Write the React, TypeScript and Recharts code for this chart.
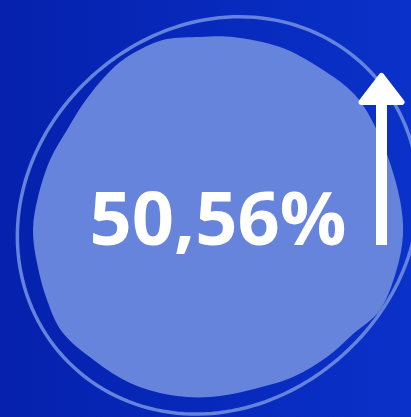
import React from 'react';
import { PieChart, Pie } from 'recharts';

// headline figure shown in the badge
const METRIC_NAMES = ['Crescimento'];
const METRIC_VALUES = [50.56];

const BG_LEFT = '#0521ad';
const BG_RIGHT = '#0a31c9';
const BLOB_COLOR = '#6684db';
const RING_COLOR = '#6483dd';

// hand-traced outline of the organic blob, offsets from the pie centre
const BLOB_OUTLINE: [number, number][] = [
  [-52, -178], [-19, -180], [14, -180], [61, -170], [101, -149], [136, -122],
  [158, -87], [171, -54], [181, -17], [184, 18], [177, 55], [161, 93],
  [134, 117], [108, 140], [74, 160], [31, 173], [-9, 180], [-49, 178],
  [-89, 166], [-124, 144], [-156, 116], [-172, 83], [-182, 46], [-186, 13],
  [-181, -20], [-169, -57], [-152, -87], [-136, -113], [-119, -135],
  [-99, -155], [-76, -169],
];

// traced points of the hand-drawn outer ring, same reference point
const RING_TRACE: [number, number][] = [
  [51, -204], [98, -190], [138, -160], [179, -117], [192, -57], [191, -12],
  [183, 48], [166, 93], [136, 131], [96, 163], [48, 187], [-9, 198],
  [-69, 187], [-119, 167], [-157, 133], [-184, 93], [-201, 48], [-206, 5],
  [-199, -30], [-186, -64], [-167, -97], [-136, -130], [-102, -157],
  [-76, -170], [-52, -182], [-19, -194], [14, -200],
];

const data = METRIC_NAMES.map((name, i) => ({ name, value: METRIC_VALUES[i] }));

// closed catmull-rom spline through the outline points
function smoothPath(pts: [number, number][], cx: number, cy: number) {
  const p = pts.map(([x, y]) => [x + cx, y + cy]);
  const n = p.length;
  let d = `M${p[0][0]},${p[0][1]}`;
  for (let i = 0; i < n; i++) {
    const p0 = p[(i - 1 + n) % n];
    const p1 = p[i];
    const p2 = p[(i + 1) % n];
    const p3 = p[(i + 2) % n];
    const c1x = p1[0] + (p2[0] - p0[0]) / 6;
    const c1y = p1[1] + (p2[1] - p0[1]) / 6;
    const c2x = p2[0] - (p3[0] - p1[0]) / 6;
    const c2y = p2[1] - (p3[1] - p1[1]) / 6;
    d += ` C${c1x},${c1y} ${c2x},${c2y} ${p2[0]},${p2[1]}`;
  }
  return d + 'Z';
}

// low order fourier fit r(theta) so the ring stays smooth despite tracing noise
function ringPath(pts: [number, number][], cx: number, cy: number) {
  const basis = (t: number) => [1, Math.cos(t), Math.sin(t), Math.cos(2 * t), Math.sin(2 * t)];
  const k = 5;
  const M = Array.from({ length: k }, () => new Array(k + 1).fill(0));
  pts.forEach(([x, y]) => {
    const t = Math.atan2(y, x);
    const r = Math.hypot(x, y);
    const b = basis(t);
    for (let i = 0; i < k; i++) {
      for (let j = 0; j < k; j++) M[i][j] += b[i] * b[j];
      M[i][k] += b[i] * r;
    }
  });
  for (let i = 0; i < k; i++) {
    for (let j = i + 1; j < k; j++) {
      const f = M[j][i] / M[i][i];
      for (let c = i; c <= k; c++) M[j][c] -= f * M[i][c];
    }
  }
  const coef = new Array(k).fill(0);
  for (let i = k - 1; i >= 0; i--) {
    let s = M[i][k];
    for (let j = i + 1; j < k; j++) s -= M[i][j] * coef[j];
    coef[i] = s / M[i][i];
  }
  let d = '';
  const steps = 180;
  for (let s = 0; s < steps; s++) {
    const t = (s / steps) * Math.PI * 2;
    const r = basis(t).reduce((acc, v, i) => acc + v * coef[i], 0);
    d += `${s === 0 ? 'M' : 'L'}${cx + r * Math.cos(t)},${cy + r * Math.sin(t)} `;
  }
  return d + 'Z';
}

// the single sector is drawn as ring + blob + figure + up arrow
const BlobShape = (props: any) => {
  const { cx, cy, value } = props;
  const text = Number(value).toFixed(2).replace('.', ',') + '%';
  const ax = cx + 162.5;
  return (
    <g>
      <path
        d={ringPath(RING_TRACE, cx, cy)}
        fill="none"
        stroke={RING_COLOR}
        strokeWidth={3.5}
      />
      <path d={smoothPath(BLOB_OUTLINE, cx, cy)} fill={BLOB_COLOR} />
      <text
        x={cx - 1}
        y={cy + 28}
        textAnchor="middle"
        fill="#ffffff"
        fontFamily="'Open Sans', 'Noto Sans', sans-serif"
        fontWeight={700}
        fontSize={74}
      >
        {text}
      </text>
      <rect x={ax - 5.5} y={cy - 114} width={11} height={142} fill="#ffffff" />
      <path
        d={`M${ax},${cy - 141} L${ax + 20},${cy - 115} L${ax - 20},${cy - 115} Z`}
        fill="#ffffff"
        stroke="#ffffff"
        strokeWidth={6}
        strokeLinejoin="round"
      />
    </g>
  );
};

export default function App() {
  return (
    <div
      style={{
        position: 'absolute',
        left: 0,
        top: 0,
        width: 411,
        height: 417,
        overflow: 'hidden',
        background: `linear-gradient(90deg, ${BG_LEFT}, ${BG_RIGHT})`,
      }}
    >
      <PieChart width={411} height={417} margin={{ top: 0, right: 0, bottom: 0, left: 0 }}>
        <Pie
          data={data}
          dataKey="value"
          nameKey="name"
          cx={219}
          cy={217}
          innerRadius={0}
          outerRadius={185}
          startAngle={90}
          endAngle={-270}
          stroke="none"
          shape={BlobShape}
          isAnimationActive={false}
        />
      </PieChart>
    </div>
  );
}
